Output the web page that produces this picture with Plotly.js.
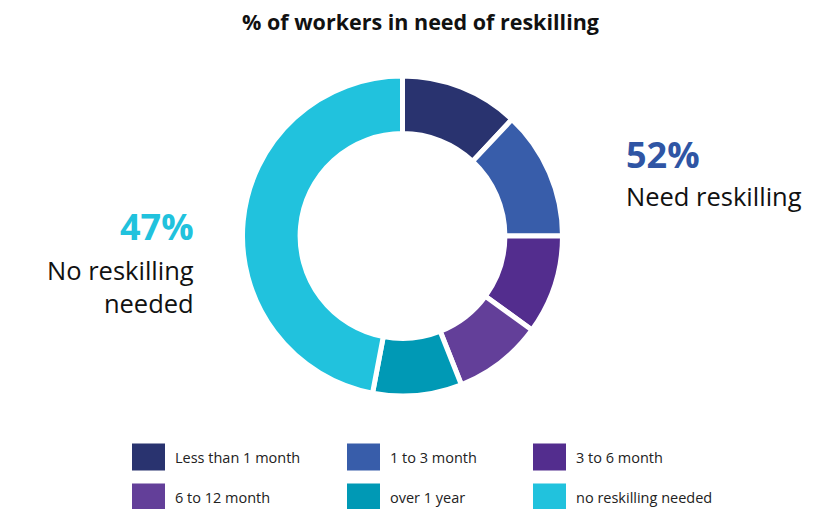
<!DOCTYPE html>
<html>
<head>
<meta charset="utf-8">
<script src="https://cdn.plot.ly/plotly-3.0.1.min.js"></script>
<style>html,body{margin:0;padding:0;background:#fff;}#chart{width:836px;height:509px;}</style>
</head>
<body>
<div id="chart"></div>
<script>
// Data
const categories = ["Less than 1 month", "1 to 3 month", "3 to 6 month", "6 to 12 month", "over 1 year", "no reskilling needed"];
const values = [12, 13, 10, 9, 9, 47];
const colors = ["#29336F", "#385DAA", "#532D8E", "#633F99", "#0099B5", "#21C2DD"];
const needLabel = "52%";
const needText = "Need reskilling";
const noNeedLabel = "47%";
const noNeedText = "No reskilling<br>needed";

const W = 836, H = 509;
const FONT = "'Open Sans', Lato, sans-serif";
const px = x => x / W;
const py = y => 1 - y / H;

const trace = {
  type: "pie",
  labels: categories,
  values: values,
  sort: false,
  direction: "clockwise",
  rotation: 0,
  hole: 0.64,
  textinfo: "none",
  hoverinfo: "label+value",
  showlegend: false,
  marker: { colors: colors, line: { color: "#ffffff", width: 5 } },
  domain: { x: [px(402.5 - 160), px(402.5 + 160)], y: [py(236 + 160), py(236 - 160)] }
};

// Custom legend (large swatches) built from the category arrays
const colX = [132, 347, 533];
const rowY = [457, 497];
const shapes = [];
const annotations = [];
categories.forEach((c, i) => {
  const col = i % 3, row = Math.floor(i / 3);
  const x0 = colX[col], yc = rowY[row];
  shapes.push({ type: "rect", xref: "paper", yref: "paper",
    x0: px(x0), x1: px(x0 + 33), y0: py(yc + 13.5), y1: py(yc - 13.5),
    fillcolor: colors[i], line: { width: 0 } });
  annotations.push({ xref: "paper", yref: "paper", x: px(x0 + 41), y: py(yc),
    xanchor: "left", yanchor: "middle", showarrow: false, text: c,
    font: { family: FONT, size: 14.5, color: "#222222" } });
});

annotations.push(
  { xref: "paper", yref: "paper", x: px(624), y: py(154), xanchor: "left", yanchor: "middle",
    showarrow: false, text: "<b>" + needLabel + "</b>", font: { family: FONT, size: 36, color: "#2F55A4" } },
  { xref: "paper", yref: "paper", x: px(624), y: py(196), xanchor: "left", yanchor: "middle",
    showarrow: false, text: needText, font: { family: FONT, size: 25.5, color: "#111111" } },
  { xref: "paper", yref: "paper", x: px(196), y: py(226), xanchor: "right", yanchor: "middle",
    showarrow: false, text: "<b>" + noNeedLabel + "</b>", font: { family: FONT, size: 36, color: "#21C2DD" } },
  { xref: "paper", yref: "paper", x: px(196), y: py(286), xanchor: "right", yanchor: "middle", align: "right",
    showarrow: false, text: noNeedText, font: { family: FONT, size: 25.5, color: "#111111" } }
);

const layout = {
  width: W, height: H,
  margin: { l: 0, r: 0, t: 0, b: 0 },
  paper_bgcolor: "#ffffff",
  title: { text: "<b>% of workers in need of reskilling</b>", x: 0.503, xanchor: "center",
    yref: "container", y: 1 - 22 / H, yanchor: "middle",
    font: { family: FONT, size: 21.5, color: "#111111" } },
  shapes: shapes,
  annotations: annotations,
  showlegend: false
};

Plotly.newPlot("chart", [trace], layout, { displayModeBar: false, staticPlot: true });
</script>
</body>
</html>
